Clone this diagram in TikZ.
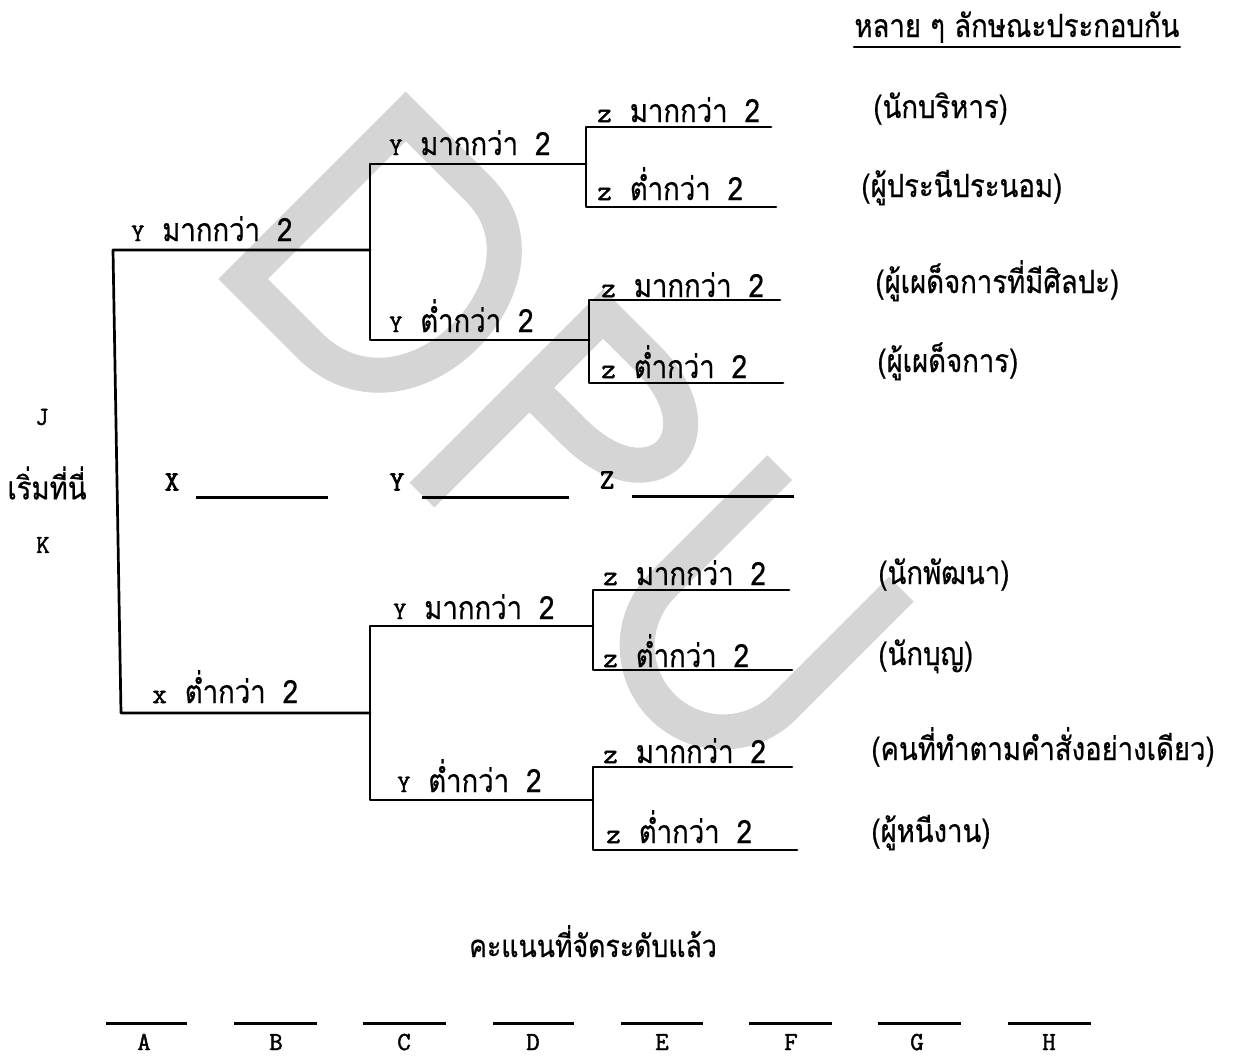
\documentclass[tikz,border=0pt]{standalone}
\usepackage{fontspec}
\setmainfont{Liberation Serif}
\newfontfamily\thf[Script=Thai,FakeStretch=0.86,FakeBold=0.6]{Loma}
\newfontfamily\tyf[FakeBold=1.8]{Latin Modern Mono}
\newfontfamily\tybf[FakeBold=2.8]{Latin Modern Mono}
\newcommand{\mylab}[3]{{\tyf\fontsize{#1}{12}\selectfont #2}\hspace{9pt}#3\hspace{8.5pt}2}
\begin{document}
\begin{tikzpicture}[x=0.5pt,y=0.5pt,
  ln/.style={line width=1.35pt, line cap=round, line join=round},
  wm/.style={draw=gray!33, line width=17.5pt, line join=miter, line cap=butt},
  tl/.style={anchor=base west, inner sep=0pt, font=\thf\fontsize{16}{18}\selectfont},
  dsc/.style={anchor=base west, inner sep=0pt, font=\thf\fontsize{16}{18}\selectfont},
  ltr/.style={inner sep=0pt, font=\tyf\fontsize{13}{15}\selectfont},
  big/.style={inner sep=0pt, font=\tybf\fontsize{14}{16}\selectfont},
  bl/.style={line width=1.5pt}]
\path[use as bounding box] (0,0) rectangle (1237,-1055);

% watermark DPU
\begin{scope}[shift={(219,-279)}, rotate=-45]
  \draw[wm] (17,17) -- (17,247) -- (120,247) .. controls (245,247) and (250,17) .. (110,17) -- cycle;
\end{scope}
\begin{scope}[shift={(410,-483)}, rotate=-45]
  \draw[wm] (17,0) -- (17,256) -- (80,256) .. controls (190,256) and (190,152) .. (80,152) -- (17,152);
\end{scope}
\begin{scope}[shift={(767,-455)}, rotate=-45]
  \draw[wm] (18,0) -- (18,-166) arc[start angle=180, end angle=360, radius=86] -- (190,0);
\end{scope}

% tree coordinates
\coordinate (r1) at (113,-250);
\coordinate (r2) at (121,-713);
\coordinate (a1) at (370,-164);
\coordinate (am) at (370,-250);
\coordinate (a2) at (370,-340);
\coordinate (c1) at (370,-626);
\coordinate (cm) at (370,-713);
\coordinate (c2) at (370,-800);
\coordinate (b1t) at (586,-127); \coordinate (b1m) at (586,-164); \coordinate (b1b) at (586,-207);
\coordinate (b1te) at (771,-127); \coordinate (b1be) at (776,-207);
\coordinate (b2t) at (589,-300); \coordinate (b2m) at (589,-340); \coordinate (b2b) at (589,-383);
\coordinate (b2te) at (780,-300); \coordinate (b2be) at (783,-383);
\coordinate (b3t) at (593,-590); \coordinate (b3m) at (593,-626); \coordinate (b3b) at (593,-670);
\coordinate (b3te) at (789,-590); \coordinate (b3be) at (792,-670);
\coordinate (b4t) at (593,-767); \coordinate (b4m) at (593,-800); \coordinate (b4b) at (593,-850);
\coordinate (b4te) at (792,-767); \coordinate (b4be) at (797,-850);

\draw[ln] (am) -- (r1) -- (r2) -- (cm);
\draw[ln] (b1m) -- (a1) -- (a2) -- (b2m);
\draw[ln] (b3m) -- (c1) -- (c2) -- (b4m);
\draw[ln] (b1te) -- (b1t) -- (b1b) -- (b1be);
\draw[ln] (b2te) -- (b2t) -- (b2b) -- (b2be);
\draw[ln] (b3te) -- (b3t) -- (b3b) -- (b3be);
\draw[ln] (b4te) -- (b4t) -- (b4b) -- (b4be);

% branch labels
\node[tl] (l1) at (131,-241) {\mylab{12.5}{Y}{มากกว่า}};
\node[tl] (l2) at (152,-703) {\mylab{14}{x}{ต่ำกว่า}};
\node[tl] (l3) at (389,-155) {\mylab{12.5}{Y}{มากกว่า}};
\node[tl] (l4) at (389,-332) {\mylab{12.5}{Y}{ต่ำกว่า}};
\node[tl] (l5) at (393,-619) {\mylab{12.5}{Y}{มากกว่า}};
\node[tl] (l6) at (397,-792) {\mylab{12.5}{Y}{ต่ำกว่า}};
\node[tl] (z1) at (597,-122) {\mylab{14}{z}{มากกว่า}};
\node[tl] (z2) at (597,-200) {\mylab{14}{z}{ต่ำกว่า}};
\node[tl] (z3) at (601,-297) {\mylab{14}{z}{มากกว่า}};
\node[tl] (z4) at (601,-378) {\mylab{14}{z}{ต่ำกว่า}};
\node[tl] (z5) at (603,-585) {\mylab{14}{z}{มากกว่า}};
\node[tl] (z6) at (603,-667) {\mylab{14}{z}{ต่ำกว่า}};
\node[tl] (z7) at (603,-763) {\mylab{14}{z}{มากกว่า}};
\node[tl] (z8) at (606,-843) {\mylab{14}{z}{ต่ำกว่า}};

% descriptions
\node[dsc] (hdr) at (854,-37) {หลาย ๆ ลักษณะประกอบกัน};
\draw[ln] ([yshift=-5pt]hdr.base west) -- ([yshift=-5pt]hdr.base east);
\node[dsc] (d1) at (873,-118) {(นักบริหาร)};
\node[dsc] (d2) at (861,-197) {(ผู้ประนีประนอม)};
\node[dsc] (d3) at (875,-293) {(ผู้เผด็จการที่มีศิลปะ)};
\node[dsc] (d4) at (877,-372) {(ผู้เผด็จการ)};
\node[dsc] (d5) at (878,-584) {(นักพัฒนา)};
\node[dsc] (d6) at (878,-665) {(นักบุญ)};
\node[dsc] (d7) at (871,-760) {(คนที่ทำตามคำสั่งอย่างเดียว)};
\node[dsc] (d8) at (871,-842) {(ผู้หนีงาน)};

% start
\node[ltr] (j) at (42,-417) {J};
\node[inner sep=0pt, font=\thf\fontsize{16}{18}\selectfont] (start) at (47,-483) {เริ่มที่นี่};
\node[ltr] (k) at (43,-545) {K};

% X Y Z blanks
\node[big] (xx) at (172,-482) {X};
\coordinate (xs) at (196,-497); \coordinate (xe) at (328,-497);
\draw[bl] (xs) -- (xe);
\node[big] (yy) at (397,-482) {Y};
\coordinate (ys) at (422,-497); \coordinate (ye) at (569,-497);
\draw[bl] (ys) -- (ye);
\node[big] (zz) at (607,-480) {Z};
\coordinate (zs) at (632,-496); \coordinate (ze) at (794,-496);
\draw[bl] (zs) -- (ze);

% scores
\node[anchor=base, inner sep=0pt, font=\thf\fontsize{15.5}{18}\selectfont] (sc) at (593,-957) {คะแนนที่จัดระดับแล้ว};
\foreach \nm/\xa/\xb/\xc in {A/106/187/144, B/234/317/276, C/363/446/404, D/493/574/533, E/621/703/662, F/749/832/791, G/878/961/917, H/1008/1091/1049}{
  \coordinate (s\nm) at (\xa,-1023);
  \coordinate (e\nm) at (\xb,-1023);
  \draw[bl] (s\nm) -- (e\nm);
  \node[ltr, anchor=base] (t\nm) at (\xc,-1050) {\nm};
}
\end{tikzpicture}
\end{document}
